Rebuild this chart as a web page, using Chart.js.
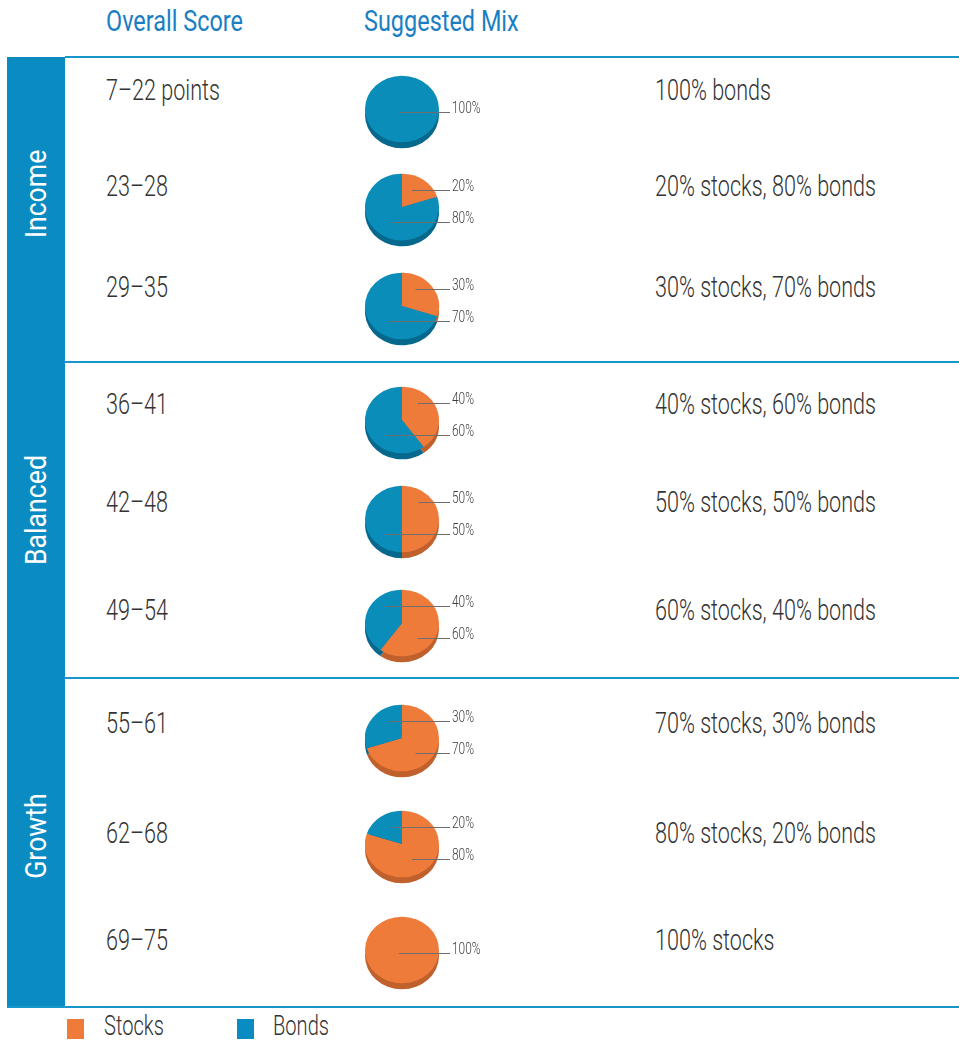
<!DOCTYPE html>
<html>
<head>
<meta charset="utf-8">
<script src="https://cdn.jsdelivr.net/npm/chart.js@4.4.1/dist/chart.umd.min.js"></script>
<style>
  :root { --kh: 0.78; --kb: 0.7; --ks: 0.85; }
  body { margin: 0; background: #fff; }
  #page {
    position: relative; width: 959px; height: 1044px; overflow: hidden;
    font-family: Roboto, "Liberation Sans", sans-serif; color: #333;
  }
  .band { position: absolute; left: 7px; top: 57px; width: 58px; height: 951px; background: #0a8cc3; }
  .rule { position: absolute; left: 65px; right: 0; height: 2px; background: #1796c9; }
  .cell {
    position: absolute; font-size: 29px; font-weight: 300; line-height: 26px; white-space: nowrap;
    transform-origin: 0 50%; transform: translateY(-50%) scaleX(var(--kb));
  }
  .head { color: #1a7ec3; font-weight: 400; transform: translateY(-50%) scaleX(var(--kh)); }
  .legend-text { font-size: 27px; line-height: 24px; }
  .side {
    position: absolute; left: 36px; color: #fff; font-size: 29px; line-height: 32px; white-space: nowrap;
    transform: translate(-50%, -50%) rotate(-90deg) scaleX(var(--ks));
  }
  .swatch { position: absolute; top: 1019px; width: 17px; height: 20px; }
  canvas.pie { position: absolute; }
  .probe { position: absolute; left: 0; top: 0; visibility: hidden; font-size: 29px; white-space: nowrap; }
</style>
</head>
<body>
<div id="page">
  <div class="band"></div>
  <div class="rule" style="top:56px"></div>
  <div class="rule" style="top:361px"></div>
  <div class="rule" style="top:677px"></div>
  <div class="rule" style="top:1006px; left:7px"></div>
  <span class="probe" id="probe-head">Overall Score</span>
  <span class="probe" id="probe-body" style="font-weight:300">20% stocks, 80% bonds</span>
  <span class="probe" id="probe-side">Balanced</span>
</div>
<script>
// data
const headers = ['Overall Score', 'Suggested Mix'];
const scoreRanges = ['7–22 points', '23–28', '29–35', '36–41', '42–48', '49–54', '55–61', '62–68', '69–75'];
const stocksPct = [0, 20, 30, 40, 50, 60, 70, 80, 100];
const bondsPct = [100, 80, 70, 60, 50, 40, 30, 20, 0];
const mixText = [
  '100% bonds', '20% stocks, 80% bonds', '30% stocks, 70% bonds',
  '40% stocks, 60% bonds', '50% stocks, 50% bonds', '60% stocks, 40% bonds',
  '70% stocks, 30% bonds', '80% stocks, 20% bonds', '100% stocks'
];
const profiles = ['Income', 'Balanced', 'Growth'];
const seriesNames = ['Stocks', 'Bonds'];

// layout
const headerX = [106, 364];
const pieCenterY = [109, 207, 306, 420, 519, 623, 738, 844, 950];
const textY = [90, 186, 287, 404, 502, 610, 723, 833, 940];
const profileY = [194, 510, 836];

const ORANGE = '#ef7b3b';
const BLUE = '#0b8db9';
const SHADES = ['#c0602c', '#06688c'];
const SQUASH = 0.9;
const DEPTH = 6;

const page = document.getElementById('page');

// condense the text to the narrow face of the original
function fit(id, target, fallback) {
  const w = document.getElementById(id).getBoundingClientRect().width;
  return w > 0 ? target / w : fallback;
}
const KH = fit('probe-head', 137, 0.78);
const KB = fit('probe-body', 221, 0.7);
const KS = fit('probe-side', 110, 0.85);
document.documentElement.style.setProperty('--kh', KH);
document.documentElement.style.setProperty('--kb', KB);
document.documentElement.style.setProperty('--ks', KS);

function addText(cls, text, left, top) {
  const el = document.createElement('div');
  el.className = cls;
  el.style.left = left + 'px';
  el.style.top = top + 'px';
  el.textContent = text;
  page.appendChild(el);
  return el;
}

headers.forEach((h, i) => addText('cell head', h, headerX[i], 21));

profiles.forEach((name, i) => {
  const el = document.createElement('div');
  el.className = 'side';
  el.style.top = profileY[i] + 'px';
  el.textContent = name;
  page.appendChild(el);
});

const pie3d = {
  id: 'pie3d',
  beforeDatasetsDraw(chart) {
    const ctx = chart.ctx;
    const arcs = chart.getDatasetMeta(0).data;
    const { x, y } = arcs[0];
    ctx.save();
    ctx.translate(x, y);
    ctx.scale(1, SQUASH);
    ctx.translate(-x, -y);
    arcs.forEach((arc, i) => {
      if (arc.endAngle - arc.startAngle <= 0) return;
      ctx.beginPath();
      ctx.moveTo(arc.x, arc.y + DEPTH / SQUASH);
      ctx.arc(arc.x, arc.y + DEPTH / SQUASH, arc.outerRadius, arc.startAngle, arc.endAngle);
      ctx.closePath();
      ctx.fillStyle = SHADES[i];
      ctx.fill();
    });
  },
  afterDatasetsDraw(chart) {
    chart.ctx.restore();
  },
  afterDraw(chart) {
    const ctx = chart.ctx;
    const values = chart.data.datasets[0].data;
    const arcs = chart.getDatasetMeta(0).data;
    const nonZero = values.filter((v) => v > 0).length;
    ctx.save();
    ctx.font = '300 16px Roboto, sans-serif';
    ctx.fillStyle = '#3c3c3c';
    ctx.strokeStyle = '#6e6e6e';
    ctx.lineWidth = 1;
    const endX = arcs[0].x + 48;
    arcs.forEach((arc, i) => {
      const v = values[i];
      if (v <= 0) return;
      let startX, lineY;
      if (nonZero === 1) {
        startX = arc.x - 3;
        lineY = arc.y + 3;
      } else {
        const other = values[1 - i];
        const isTop = v < other || (v === other && i === 0);
        const mid = (arc.startAngle + arc.endAngle) / 2;
        startX = arc.x + 0.45 * arc.outerRadius * Math.cos(mid);
        lineY = arc.y + (isTop ? -17 : 15);
      }
      ctx.beginPath();
      ctx.moveTo(startX, lineY + 0.5);
      ctx.lineTo(endX, lineY + 0.5);
      ctx.stroke();
      ctx.save();
      ctx.translate(endX + 2, lineY + 1);
      ctx.scale(KB, 1);
      ctx.fillText(v + '%', 0, 0);
      ctx.restore();
    });
    ctx.restore();
  }
};

scoreRanges.forEach((range, i) => {
  addText('cell', range, 106, textY[i]);
  addText('cell', mixText[i], 655, textY[i]);

  const canvas = document.createElement('canvas');
  canvas.className = 'pie';
  canvas.width = 140;
  canvas.height = 96;
  canvas.style.left = '365px';
  canvas.style.top = (pieCenterY[i] - 48) + 'px';
  page.appendChild(canvas);

  new Chart(canvas, {
    type: 'pie',
    data: {
      labels: seriesNames,
      datasets: [{
        data: [stocksPct[i], bondsPct[i]],
        backgroundColor: [ORANGE, BLUE],
        borderWidth: 0
      }]
    },
    options: {
      responsive: false,
      animation: false,
      layout: { padding: { left: 0, right: 66, top: 11, bottom: 11 } },
      plugins: { legend: { display: false }, tooltip: { enabled: false } }
    },
    plugins: [pie3d]
  });
});

// legend
const legendX = [67, 237];
const legendTextX = [104, 273];
[ORANGE, '#0a8cc3'].forEach((color, i) => {
  const sw = document.createElement('div');
  sw.className = 'swatch';
  sw.style.left = legendX[i] + 'px';
  sw.style.background = color;
  page.appendChild(sw);
  addText('cell legend-text', seriesNames[i], legendTextX[i], 1026);
});
</script>
</body>
</html>
